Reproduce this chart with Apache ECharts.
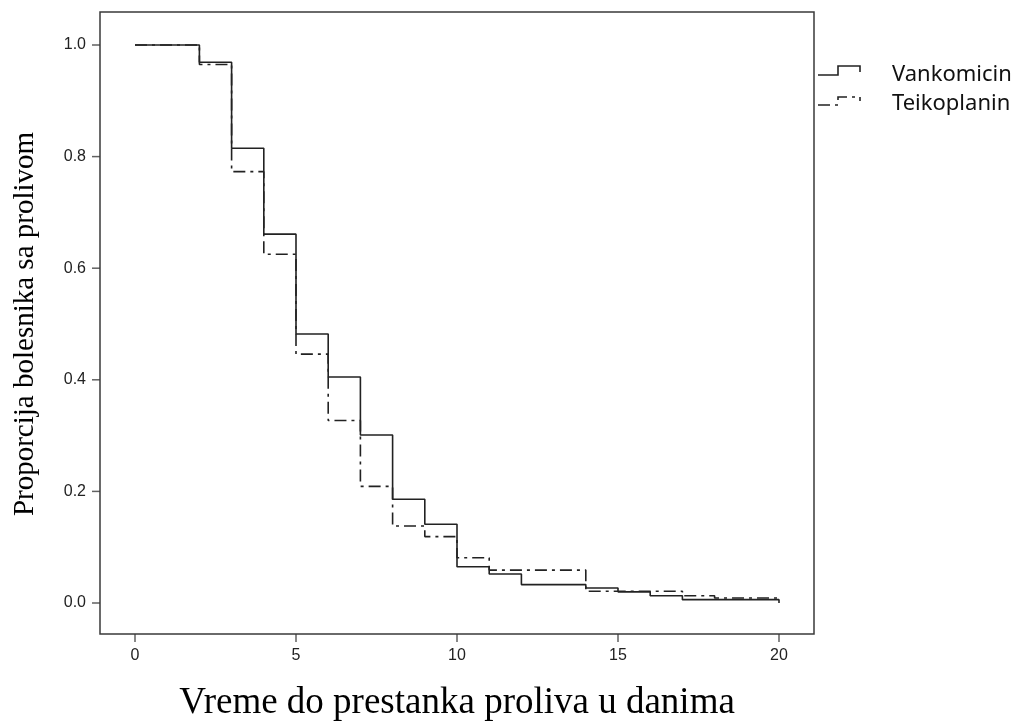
<!DOCTYPE html>
<html>
<head>
<meta charset="utf-8">
<script src="https://cdn.jsdelivr.net/npm/echarts@6/dist/echarts.min.js"></script>
<style>
  html, body { margin: 0; padding: 0; background: #fff; }
  #chart { width: 1019px; height: 728px; }
</style>
</head>
<body>
<div id="chart"></div>
<script>
// Kaplan-Meier step data
const vankDays = [0, 2, 3, 4, 5, 6, 7, 8, 9, 10, 11, 12, 14, 15, 16, 17, 20];
const vankSurv = [1.0, 0.969, 0.815, 0.661, 0.482, 0.405, 0.301, 0.186, 0.141, 0.065, 0.052, 0.033, 0.027, 0.020, 0.013, 0.006, 0.0];

const teikDays = [0, 2, 3, 4, 5, 6, 7, 8, 9, 10, 11, 14, 17, 18, 20];
const teikSurv = [1.0, 0.965, 0.773, 0.625, 0.446, 0.327, 0.209, 0.138, 0.119, 0.081, 0.059, 0.021, 0.013, 0.009, 0.005];

const xTicks = [0, 5, 10, 15, 20];
const yTicks = [0, 0.2, 0.4, 0.6, 0.8, 1.0];

const seriesNames = ['Vankomicin', 'Teikoplanin'];

const dashDot = [12, 5, 3, 5];
const ink = '#222';
const frame = '#3a3a3a';

function pairs(xs, ys) {
  return xs.map((x, i) => [x, ys[i]]);
}

const chart = echarts.init(document.getElementById('chart'));

chart.setOption({
  animation: false,
  backgroundColor: '#fff',
  grid: [
    // data area: exactly 0..20 x 0..1
    { left: 135, right: 240, top: 45, bottom: 125 },
    // surrounding frame
    {
      left: 100, right: 205, top: 12, bottom: 94,
      show: true, borderColor: frame, borderWidth: 1.5,
      backgroundColor: 'transparent'
    }
  ],
  xAxis: [
    {
      gridIndex: 0,
      type: 'value',
      position: 'bottom',
      min: 0, max: 20, interval: 5,
      offset: 31,
      axisLine: { show: false, onZero: false },
      splitLine: { show: false },
      axisTick: { show: false },
      axisLabel: {
        margin: 14,
        color: '#222',
        fontFamily: 'Liberation Sans',
        fontSize: 16
      },
      name: 'Vreme do prestanka proliva u danima',
      nameLocation: 'middle',
      nameGap: 51,
      nameTextStyle: { fontFamily: 'Liberation Serif', fontSize: 37, color: '#000' }
    },
    { gridIndex: 1, type: 'value', show: false }
  ],
  yAxis: [
    {
      gridIndex: 0,
      type: 'value',
      position: 'left',
      min: 0, max: 1, interval: 0.2,
      offset: 35,
      axisLine: { show: false, onZero: false },
      splitLine: { show: false },
      axisTick: { show: false },
      axisLabel: {
        margin: 14,
        color: '#222',
        fontFamily: 'Liberation Sans',
        fontSize: 16,
        formatter: v => v.toFixed(1)
      },
      name: 'Proporcija bolesnika sa prolivom',
      nameLocation: 'middle',
      nameGap: 60,
      nameTextStyle: { fontFamily: 'Liberation Serif', fontSize: 29, color: '#000' }
    },
    { gridIndex: 1, type: 'value', show: false }
  ],
  series: [
    {
      name: seriesNames[1],
      type: 'line',
      step: 'end',
      symbol: 'none',
      clip: false,
      data: pairs(teikDays, teikSurv),
      lineStyle: { color: ink, width: 1.6, type: dashDot }
    },
    {
      name: seriesNames[0],
      type: 'line',
      step: 'end',
      symbol: 'none',
      clip: false,
      data: pairs(vankDays, vankSurv),
      lineStyle: { color: ink, width: 1.6, type: 'solid' }
    },
    // tick marks on the frame edges, placed through the axis scales
    {
      type: 'scatter',
      silent: true,
      clip: false,
      symbol: 'rect',
      symbolSize: [1.5, 8],
      symbolOffset: [0, 35],
      itemStyle: { color: frame },
      data: xTicks.map(x => [x, 0])
    },
    {
      type: 'scatter',
      silent: true,
      clip: false,
      symbol: 'rect',
      symbolSize: [8, 1.5],
      symbolOffset: [-39, 0],
      itemStyle: { color: frame },
      data: yTicks.map(v => [0, v])
    }
  ],
  // step-shaped legend keys, drawn by hand
  graphic: [
    {
      type: 'polyline',
      shape: { points: [[818, 75], [838, 75], [838, 66], [860, 66], [860, 72]] },
      style: { stroke: ink, lineWidth: 1.6, fill: null }
    },
    {
      type: 'polyline',
      shape: { points: [[818, 105], [838, 105], [838, 97], [860, 97], [860, 101]] },
      style: { stroke: ink, lineWidth: 1.6, fill: null, lineDash: dashDot }
    },
    {
      type: 'text', x: 892, y: 75,
      style: { text: seriesNames[0], fill: '#111', font: '22px "Noto Sans"', verticalAlign: 'middle' }
    },
    {
      type: 'text', x: 892, y: 104,
      style: { text: seriesNames[1], fill: '#111', font: '22px "Noto Sans"', verticalAlign: 'middle' }
    }
  ]
});
</script>
</body>
</html>
